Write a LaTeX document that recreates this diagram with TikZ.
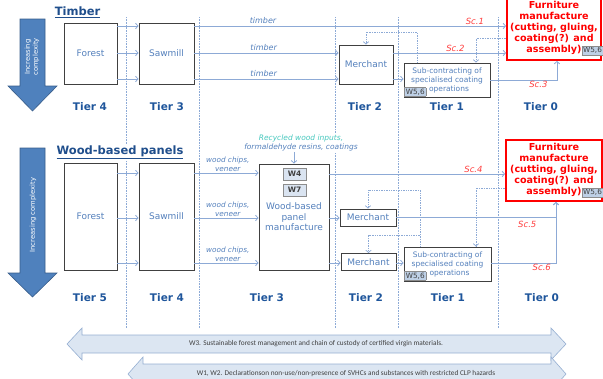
\documentclass[tikz,border=0pt]{standalone}
\usepackage{fontspec}
\setmainfont{DejaVu Sans}
\newfontfamily\bandfont{Carlito}
\usepackage{xcolor}
\usetikzlibrary{arrows.meta,positioning}

\definecolor{tierblue}{RGB}{30,85,155}
\definecolor{titleblue}{RGB}{31,78,140}
\definecolor{boxtext}{RGB}{84,128,188}
\definecolor{flowblue}{RGB}{141,170,214}
\definecolor{bigarrow}{RGB}{79,129,189}
\definecolor{bigarrowline}{RGB}{56,93,138}
\definecolor{scred}{RGB}{255,60,60}
\definecolor{tagfill}{RGB}{190,208,230}
\definecolor{wlight}{RGB}{218,228,241}
\definecolor{bandfill}{RGB}{220,230,242}
\definecolor{bandline}{RGB}{150,175,210}
\definecolor{recycledteal}{RGB}{70,200,190}

% grey W-tags inside the boxes
\newcommand{\wtag}[1]{{\setlength{\fboxsep}{1.1pt}\fcolorbox{black!45}{tagfill}{\fontseries{m}\fontsize{7.3}{7.3}\selectfont\color{black!75}#1}}}

\tikzset{
	>={Straight Barb[length=2.5pt,width=5.5pt]}, % open chevron heads
	stage/.style={draw=black!75, line width=0.9pt, fill=white, text=boxtext,
		font=\fontsize{9}{10.5}\selectfont, align=center, inner sep=1pt},
	furniture/.style={draw=red, line width=1.8pt, fill=white, text=red,
		font=\bfseries\fontsize{9.6}{11}\selectfont, align=center, inner sep=1pt},
	flow/.style={->, draw=flowblue, line width=0.8pt},
	feedback/.style={->, draw=flowblue, line width=0.7pt, densely dotted},
	divider/.style={draw=flowblue, line width=0.6pt, densely dotted},
	tier/.style={text=tierblue, font=\bfseries\fontsize{10.5}{12}\selectfont},
	section/.style={text=titleblue, font=\bfseries\fontsize{11.5}{13}\selectfont, fill=white, inner sep=1pt},
	goods/.style={text=boxtext, font=\itshape\fontsize{8}{9}\selectfont, inner sep=1pt},
	chips/.style={goods, font=\itshape\fontsize{7.3}{9}\selectfont, align=center},
	scen/.style={text=scred, font=\itshape\fontsize{8.5}{10}\selectfont, inner sep=1pt},
	wbox/.style={draw=black!45, fill=wlight, text=black!75, font=\bfseries\fontsize{7.5}{8}\selectfont,
		minimum width=23, minimum height=12, inner sep=0pt},
	complexity/.style={fill=bigarrow, draw=bigarrowline, line width=0.6pt},
	band/.style={draw=bandline, fill=bandfill, line width=0.6pt},
	bandtext/.style={text=black!75, font=\bandfont\fontsize{7.3}{8}\selectfont, inner sep=0pt},
}

\begin{document}
\begin{tikzpicture}[x=1pt, y=-1pt]
	\useasboundingbox (0,0) rectangle (603,378);

	% tier separators
	\draw[divider] (126,17) -- (126,328);
	\draw[divider] (199,17) -- (199,328);
	\draw[divider] (335,17) -- (335,328);
	\draw[divider] (398,17) -- (398,328);
	\draw[divider] (498,17) -- (498,328);

	% big "increasing complexity" arrows
	\draw[complexity] (20,19) -- (45,19) -- (45,86) -- (57,86) -- (32.5,111) -- (8,86) -- (20,86) -- cycle;
	\node[rotate=90, text=white, align=center, font=\fontsize{6.8}{8}\selectfont] (cx1) at (32,57) {Increasing\\complexity};
	\draw[complexity] (20,148) -- (45,148) -- (45,273) -- (57,273) -- (32.5,297) -- (8,273) -- (20,273) -- cycle;
	\node[rotate=90, text=white, font=\fontsize{6.8}{8}\selectfont] (cx2) at (33,215) {Increasing complexity};

	%% Timber
	\node[section] (timbertitle) at (77.5,12) {\underline{Timber}};
	\node[stage, minimum width=53, minimum height=61] (forest1) at (90.5,53.5) {Forest};
	\node[stage, minimum width=55, minimum height=61] (sawmill1) at (166.5,53.5) {Sawmill};
	\node[stage, minimum width=54, minimum height=39] (merchant1) at (366,64.5) {Merchant};
	\node[stage, minimum width=86, minimum height=34, font=\fontsize{7.5}{9}\selectfont] (sub1) at (447,80)
		{Sub-contracting of\\specialised coating\\\hspace*{4pt}operations};
	\node[anchor=south west, inner sep=0.6pt] (sub1tag) at (sub1.south west) {\wtag{W5,6}};
	\node[furniture, minimum width=94, minimum height=63] (furn1) at (554,28.5)
		{Furniture\\manufacture\\(cutting, gluing,\\coating(?) and\\assembly)\rlap{\wtag{W5,6}}};

	\draw[flow] (forest1.east |- 0,26) -- (sawmill1.west |- 0,26);
	\draw[flow] (forest1.east |- 0,53) -- (sawmill1.west |- 0,53);
	\draw[flow] (forest1.east |- 0,79) -- (sawmill1.west |- 0,79);

	\draw[flow] (sawmill1.east |- 0,26) -- node[goods, above=1pt, pos=0.22] (timber1) {timber}
		node[scen, above, pos=0.9] (sc1) {Sc.1} (furn1.west |- 0,26);
	\draw[flow] (sawmill1.east |- 0,53) -- node[goods, above=1pt, pos=0.48] (timber2) {timber} (merchant1.west |- 0,53);
	\draw[flow] (merchant1.east |- 0,53) -- node[scen, above, pos=0.55] (sc2) {Sc.2} (furn1.west |- 0,53);
	\draw[flow] (sawmill1.east |- 0,79) -- node[goods, above=1pt, pos=0.48] (timber3) {timber} (merchant1.west |- 0,79);
	\draw[flow] (merchant1.east |- 0,79) -- (sub1.west |- 0,79);
	\draw[flow] (sub1.east |- 0,80) -| node[scen, below, pos=0.36] (sc3) {Sc.3} ([xshift=3pt]furn1.south);

	\draw[feedback] (sub1.north -| 417,0) |- (merchant1.north |- 0,32) -- (merchant1.north);
	\draw[feedback] (furn1.west |- 0,38) -| (sub1.north -| 476,0);

	\node[tier] (t4a) at (90,107) {Tier 4};
	\node[tier] (t3a) at (167,107) {Tier 3};
	\node[tier] (t2a) at (365,107) {Tier 2};
	\node[tier] (t1a) at (447,107) {Tier 1};
	\node[tier] (t0a) at (541,107) {Tier 0};

	%% Wood-based panels
	\node[section] (paneltitle) at (120,152.5) {\underline{Wood-based panels}};
	\node[stage, minimum width=53, minimum height=107] (forest2) at (90.5,216.5) {Forest};
	\node[stage, minimum width=55, minimum height=107] (sawmill2) at (166.5,216.5) {Sawmill};
	\node[stage, minimum width=70, minimum height=106] (wbp) at (294,217) {Wood-based\\panel\\manufacture};
	\node[wbox] (w4) at (294.5,174) {W4};
	\node[wbox] (w7) at (294.5,190) {W7};
	\node[fill=white, inner sep=1pt, align=center, text=boxtext, font=\itshape\fontsize{7.5}{9}\selectfont] (recycled)
		at (301,142.5) {\textcolor{recycledteal}{Recycled wood inputs,}\\formaldehyde resins, coatings};
	\node[stage, minimum width=56, minimum height=17] (merchant2a) at (368,217.5) {Merchant};
	\node[stage, minimum width=55, minimum height=17] (merchant2b) at (368.5,262) {Merchant};
	\node[stage, minimum width=87, minimum height=34, font=\fontsize{7.5}{9}\selectfont] (sub2) at (447.5,264)
		{Sub-contracting of\\specialised coating\\\hspace*{4pt}operations};
	\node[anchor=south west, inner sep=0.6pt] (sub2tag) at (sub2.south west) {\wtag{W5,6}};
	\node[furniture, minimum width=96, minimum height=61] (furn2) at (554,170.5)
		{Furniture\\manufacture\\(cutting, gluing,\\coating(?) and\\assembly)\rlap{\wtag{W5,6}}};

	\draw[flow] (forest2.east |- 0,173) -- (sawmill2.west |- 0,173);
	\draw[flow] (forest2.east |- 0,218) -- (sawmill2.west |- 0,218);
	\draw[flow] (forest2.east |- 0,263) -- (sawmill2.west |- 0,263);

	\draw[flow] (sawmill2.east |- 0,173) -- node[chips, above, pos=0.52] (chips1) {wood chips,\\veneer} (wbp.west |- 0,173);
	\draw[flow] (sawmill2.east |- 0,218) -- node[chips, above, pos=0.52] (chips2) {wood chips,\\veneer} (wbp.west |- 0,218);
	\draw[flow] (sawmill2.east |- 0,263) -- node[chips, above, pos=0.52] (chips3) {wood chips,\\veneer} (wbp.west |- 0,263);
	\draw[flow] (recycled.south -| wbp.north) -- (wbp.north);

	\draw[flow] (wbp.east |- 0,174) -- node[scen, above, pos=0.82] (sc4) {Sc.4} (furn2.west |- 0,174);
	\draw[flow] (wbp.east |- 0,218) -- (merchant2a.west |- 0,218);
	\draw[flow] (wbp.east |- 0,263) -- (merchant2b.west |- 0,263);
	\draw[flow] (merchant2a.east) -| node[scen, below=2pt, pos=0.41] (sc5) {Sc.5} ([xshift=2pt]furn2.south);
	\draw[flow] (merchant2b.east |- 0,263) -- (sub2.west |- 0,263);
	\draw[flow] (sub2.east |- 0,263) -| node[scen, below, pos=0.39] (sc6) {Sc.6} ([xshift=2pt]furn2.south);

	\coordinate (fork2) at (420,235);
	\draw[feedback] (sub2.north -| 420,0) |- (merchant2a.north |- 0,190) -- (merchant2a.north);
	\draw[feedback] (fork2) -| (merchant2b.north);
	\draw[feedback] (furn2.west |- 0,188) -| (sub2.north -| 476,0);

	\node[tier] (t5b) at (90,298) {Tier 5};
	\node[tier] (t4b) at (167,298) {Tier 4};
	\node[tier] (t3b) at (267,298) {Tier 3};
	\node[tier] (t2b) at (366,298) {Tier 2};
	\node[tier] (t1b) at (448,298) {Tier 1};
	\node[tier] (t0b) at (542,298) {Tier 0};

	% requirement bands
	\draw[band] (67,344) -- (82,328) -- (82,335) -- (551,335) -- (551,328) -- (566,344)
		-- (551,360) -- (551,353) -- (82,353) -- (82,360) -- cycle;
	\node[bandtext] (w3) at (316,344) {W3. Sustainable forest management  and chain of custody of certified virgin materials.};
	\draw[band] (128,374) -- (143,357) -- (143,364) -- (551,364) -- (551,357) -- (566,374)
		-- (551,391) -- (551,384) -- (143,384) -- (143,391) -- cycle;
	\node[bandtext] (w12) at (346,374) {W1, W2. Declarationson non-use/non-presence of SVHCs and substances with restricted CLP hazards};
\end{tikzpicture}
\end{document}
